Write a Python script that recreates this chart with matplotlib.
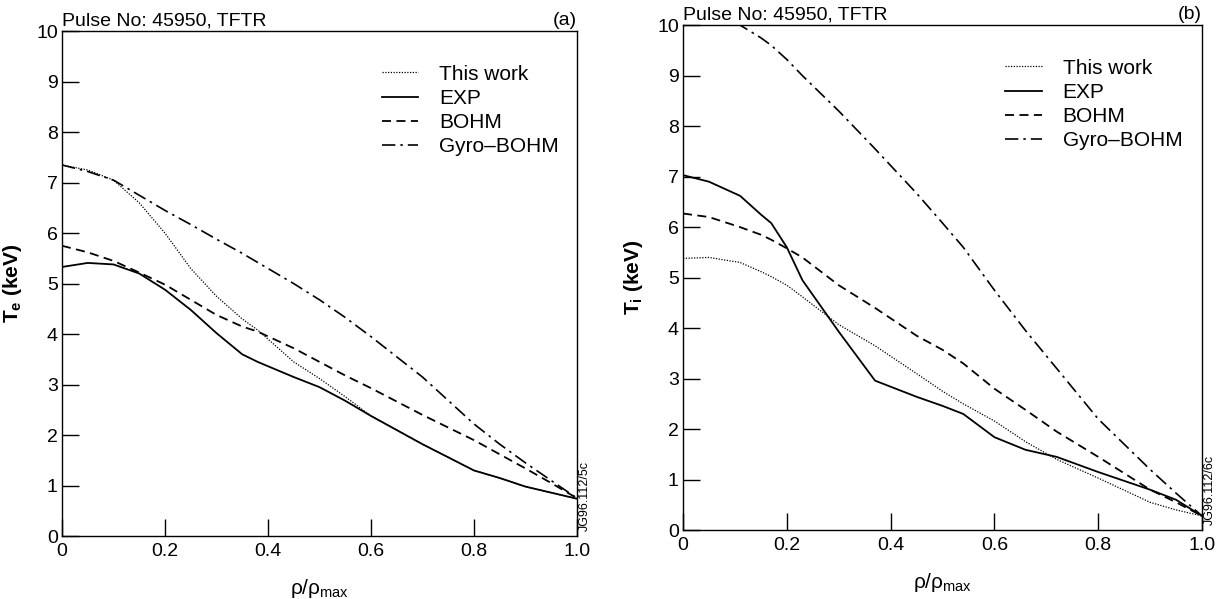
import numpy as np
import matplotlib
matplotlib.use("Agg")
import matplotlib.pyplot as plt

plt.rcParams['font.family'] = ['Liberation Sans', 'DejaVu Sans']
plt.rcParams['mathtext.fontset'] = 'custom'
plt.rcParams['mathtext.rm'] = 'Liberation Sans'
plt.rcParams['mathtext.it'] = 'Liberation Sans'
plt.rcParams['mathtext.bf'] = 'Liberation Sans:bold'

# ---- panel (a): electron temperature, Te (keV) ----
rho_a = [0.0, 0.05, 0.1, 0.15, 0.2, 0.25, 0.3, 0.35, 0.38, 0.45, 0.5, 0.55,
         0.6, 0.7, 0.8, 0.85, 0.9, 0.95, 1.0]
te_this = [7.35, 7.25, 7.05, 6.6, 6.0, 5.3, 4.75, 4.3, 4.08, 3.45, 3.12, 2.76,
           2.38, 1.82, 1.3, 1.15, 0.98, 0.86, 0.74]
te_exp = [5.33, 5.41, 5.38, 5.2, 4.88, 4.48, 4.02, 3.6, 3.45, 3.15, 2.95, 2.68,
          2.38, 1.82, 1.3, 1.15, 0.98, 0.86, 0.74]
te_bohm = [5.75, 5.62, 5.45, 5.22, 4.98, 4.68, 4.38, 4.15, 4.05, 3.72, 3.45, 3.18,
           2.93, 2.4, 1.9, 1.62, 1.34, 1.05, 0.75]
te_gyro = [7.35, 7.22, 7.05, 6.75, 6.45, 6.17, 5.88, 5.6, 5.42, 5.0, 4.68, 4.33,
           3.95, 3.15, 2.22, 1.82, 1.45, 1.1, 0.75]

# ---- panel (b): ion temperature, Ti (keV) ----
rho_b = [0.0, 0.05, 0.11, 0.15, 0.17, 0.2, 0.23, 0.3, 0.37, 0.45, 0.5, 0.54,
         0.6, 0.66, 0.72, 0.8, 0.9, 0.95, 1.0]
ti_this = [5.38, 5.4, 5.3, 5.12, 5.02, 4.85, 4.62, 4.07, 3.65, 3.1, 2.75, 2.5,
           2.16, 1.75, 1.4, 1.03, 0.55, 0.4, 0.28]
ti_exp = [7.03, 6.9, 6.62, 6.25, 6.08, 5.6, 4.95, 3.93, 2.96, 2.64, 2.46, 2.3,
          1.84, 1.59, 1.45, 1.15, 0.8, 0.6, 0.28]
ti_bohm = [6.27, 6.2, 6.0, 5.85, 5.75, 5.58, 5.4, 4.85, 4.4, 3.85, 3.57, 3.3,
           2.8, 2.38, 1.95, 1.45, 0.8, 0.55, 0.28]
ti_gyro = [10.6, 10.3, 10.0, 9.75, 9.6, 9.32, 9.0, 8.3, 7.55, 6.67, 6.08, 5.6,
           4.75, 3.95, 3.2, 2.2, 1.2, 0.73, 0.28]

xticks = [0, 0.2, 0.4, 0.6, 0.8, 1.0]
xticklabels = ['0', '0.2', '0.4', '0.6', '0.8', '1.0']
yticks = list(range(0, 11))

legend_names = ['This work', 'EXP', 'BOHM', 'Gyro\u2013BOHM']

fig = plt.figure(figsize=(12.3, 5.99), dpi=100)
ax_a = fig.add_axes([0.0504, 0.105, 0.4187, 0.843])
ax_b = fig.add_axes([0.5553, 0.115, 0.422, 0.843])


def draw_panel(ax, rho, this, exp, bohm, gyro, ylabel, tag, code):
    ax.plot(rho, this, color='black', lw=0.9, ls=(0, (1, 1.2)), label=legend_names[0])
    ax.plot(rho, exp, color='black', lw=1.3, ls='-', label=legend_names[1])
    ax.plot(rho, bohm, color='black', lw=1.3, ls=(0, (5, 3)), label=legend_names[2])
    ax.plot(rho, gyro, color='black', lw=1.2, ls=(0, (8, 3, 1.5, 3)), label=legend_names[3])
    ax.set_xlim(0, 1.0)
    ax.set_ylim(0, 10)
    ax.set_xticks(xticks)
    ax.set_xticklabels(xticklabels)
    ax.set_yticks(yticks)
    ax.tick_params(axis='x', direction='in', length=12, width=1.0, labelsize=14, pad=5)
    ax.tick_params(axis='y', direction='in', length=12, width=1.0, labelsize=14, pad=3)
    for s in ax.spines.values():
        s.set_linewidth(1.0)
    ax.set_xlabel(r'$\rho/\rho_{\rm max}$', fontsize=15, labelpad=12)
    ax.set_ylabel(ylabel, fontsize=15, fontweight='bold', labelpad=9)
    ax.text(0.0, 1.004, 'Pulse No: 45950, TFTR', transform=ax.transAxes,
            ha='left', va='bottom', fontsize=14)
    ax.text(1.0, 1.004, tag, transform=ax.transAxes, ha='right', va='bottom', fontsize=14)
    ax.text(1.003, 0.01, code, transform=ax.transAxes, ha='left', va='bottom',
            rotation=90, fontsize=9)
    leg = ax.legend(loc='upper left', bbox_to_anchor=(0.605, 0.95), frameon=False,
                    fontsize=15, handlelength=1.75, handletextpad=1.0, labelspacing=0.25,
                    borderaxespad=0)
    return leg


draw_panel(ax_a, rho_a, te_this, te_exp, te_bohm, te_gyro,
           r'$\mathbf{T_e}$ (keV)', '(a)', 'JG96.112/5c')
draw_panel(ax_b, rho_b, ti_this, ti_exp, ti_bohm, ti_gyro,
           r'$\mathbf{T_i}$ (keV)', '(b)', 'JG96.112/6c')

fig.savefig('out.png', dpi=100)
